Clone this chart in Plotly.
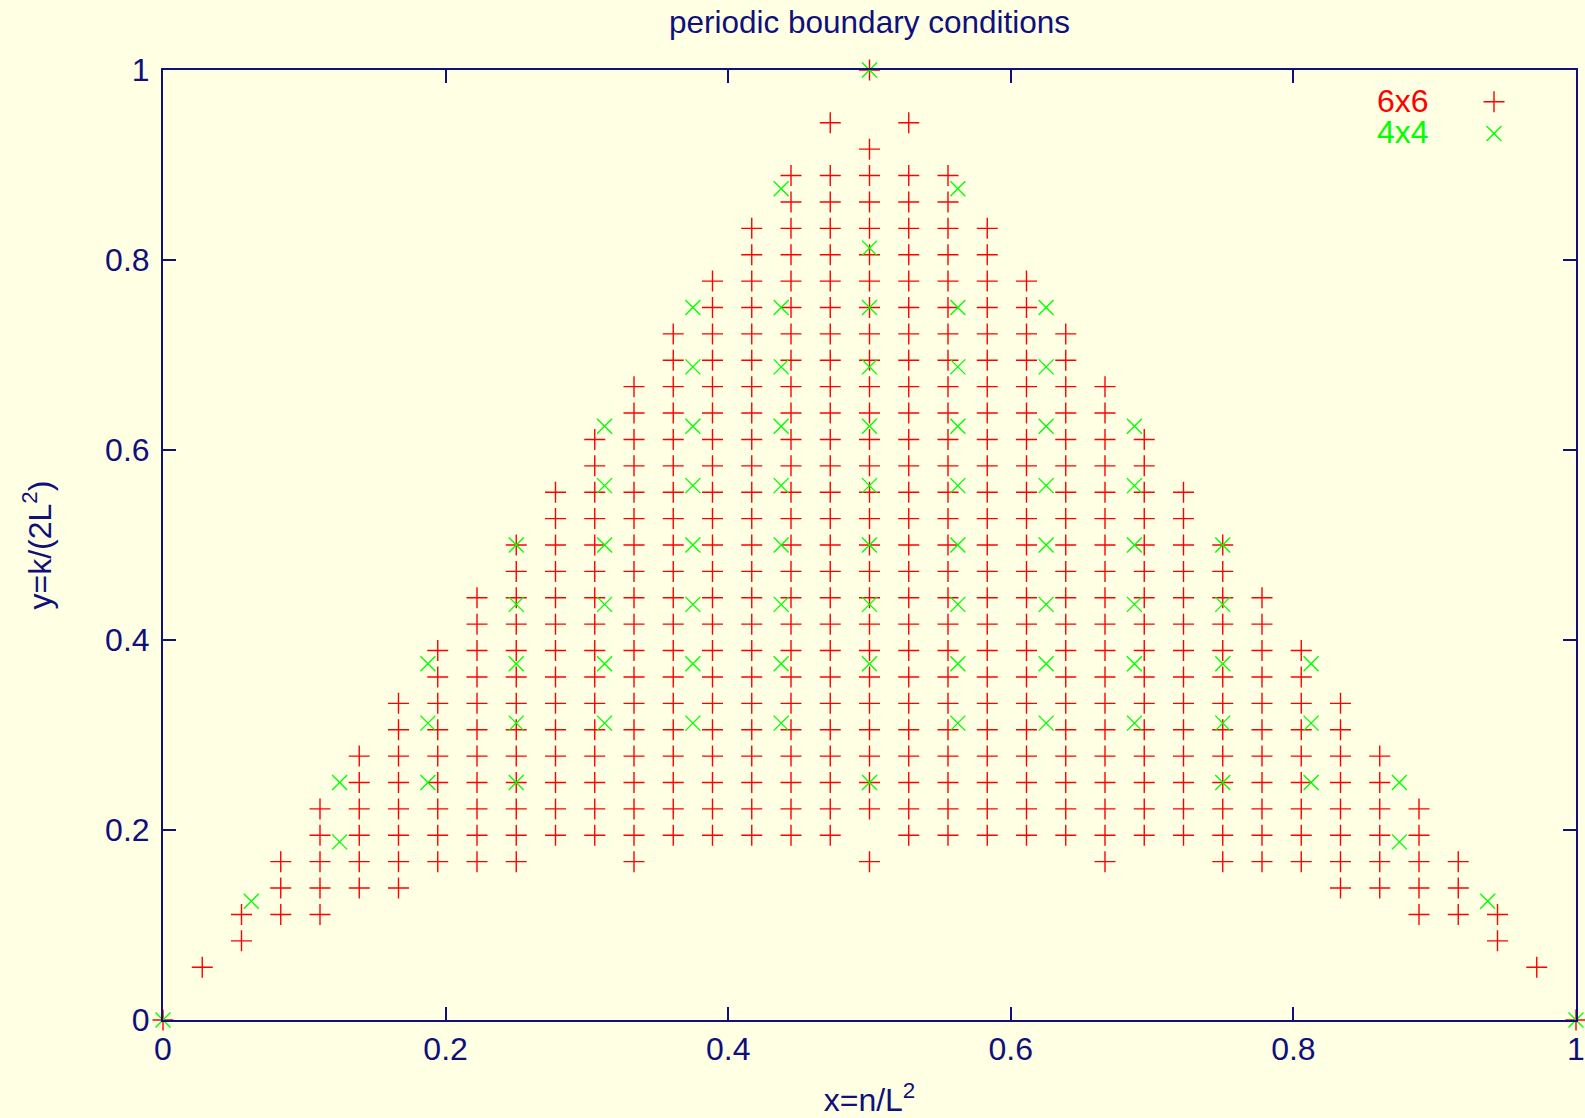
import plotly.graph_objects as go

# ---------------- data ----------------
# 6x6 lattice: x = n / 36 ; y values given as numerators j with y = j / 36
n_6x6 = [0, 1, 2, 3, 4, 5, 6, 7, 8, 9, 10, 11, 12, 13, 14, 15, 16, 17, 18,
         19, 20, 21, 22, 23, 24, 25, 26, 27, 28, 29, 30, 31, 32, 33, 34, 35, 36]
j_6x6 = [
    [0],
    [2],
    [3, 4],
    [4, 5, 6],
    [4, 5, 6, 7, 8],
    [5, 6, 7, 8, 9, 10],
    [5, 6, 7, 8, 9, 10, 11, 12],
    [6, 7, 8, 9, 10, 11, 12, 13, 14],
    [6, 7, 8, 9, 10, 11, 12, 13, 14, 15, 16],
    [6, 7, 8, 9, 10, 11, 12, 13, 14, 15, 16, 17, 18],
    [7, 8, 9, 10, 11, 12, 13, 14, 15, 16, 17, 18, 19, 20],
    [7, 8, 9, 10, 11, 12, 13, 14, 15, 16, 17, 18, 19, 20, 21, 22],
    [6, 7, 8, 9, 10, 11, 12, 13, 14, 15, 16, 17, 18, 19, 20, 21, 22, 23, 24],
    [7, 8, 9, 10, 11, 12, 13, 14, 15, 16, 17, 18, 19, 20, 21, 22, 23, 24, 25, 26],
    [7, 8, 9, 10, 11, 12, 13, 14, 15, 16, 17, 18, 19, 20, 21, 22, 23, 24, 25, 26, 27, 28],
    [7, 8, 9, 10, 11, 12, 13, 14, 15, 16, 17, 18, 19, 20, 21, 22, 23, 24, 25, 26, 27, 28, 29, 30],
    [7, 8, 9, 10, 11, 12, 13, 14, 15, 16, 17, 18, 19, 20, 21, 22, 23, 24, 25, 26, 27, 28, 29, 30, 31, 32],
    [7, 8, 9, 10, 11, 12, 13, 14, 15, 16, 17, 18, 19, 20, 21, 22, 23, 24, 25, 26, 27, 28, 29, 30, 31, 32, 34],
    [6, 8, 9, 10, 11, 12, 13, 14, 15, 16, 17, 18, 19, 20, 21, 22, 23, 24, 25, 26, 27, 28, 29, 30, 31, 32, 33, 36],
    [7, 8, 9, 10, 11, 12, 13, 14, 15, 16, 17, 18, 19, 20, 21, 22, 23, 24, 25, 26, 27, 28, 29, 30, 31, 32, 34],
    [7, 8, 9, 10, 11, 12, 13, 14, 15, 16, 17, 18, 19, 20, 21, 22, 23, 24, 25, 26, 27, 28, 29, 30, 31, 32],
    [7, 8, 9, 10, 11, 12, 13, 14, 15, 16, 17, 18, 19, 20, 21, 22, 23, 24, 25, 26, 27, 28, 29, 30],
    [7, 8, 9, 10, 11, 12, 13, 14, 15, 16, 17, 18, 19, 20, 21, 22, 23, 24, 25, 26, 27, 28],
    [7, 8, 9, 10, 11, 12, 13, 14, 15, 16, 17, 18, 19, 20, 21, 22, 23, 24, 25, 26],
    [6, 7, 8, 9, 10, 11, 12, 13, 14, 15, 16, 17, 18, 19, 20, 21, 22, 23, 24],
    [7, 8, 9, 10, 11, 12, 13, 14, 15, 16, 17, 18, 19, 20, 21, 22],
    [7, 8, 9, 10, 11, 12, 13, 14, 15, 16, 17, 18, 19, 20],
    [6, 7, 8, 9, 10, 11, 12, 13, 14, 15, 16, 17, 18],
    [6, 7, 8, 9, 10, 11, 12, 13, 14, 15, 16],
    [6, 7, 8, 9, 10, 11, 12, 13, 14],
    [5, 6, 7, 8, 9, 10, 11, 12],
    [5, 6, 7, 8, 9, 10],
    [4, 5, 6, 7, 8],
    [4, 5, 6],
    [3, 4],
    [2],
    [0],
]

# 4x4 lattice: x = m / 16 ; y values given as numerators j with y = j / 32
m_4x4 = [0, 1, 2, 3, 4, 5, 6, 7, 8, 9, 10, 11, 12, 13, 14, 15, 16]
j_4x4 = [
    [0],
    [4],
    [6, 8],
    [8, 10, 12],
    [8, 10, 12, 14, 16],
    [10, 12, 14, 16, 18, 20],
    [10, 12, 14, 16, 18, 20, 22, 24],
    [10, 12, 14, 16, 18, 20, 22, 24, 28],
    [8, 12, 14, 16, 18, 20, 22, 24, 26, 32],
    [10, 12, 14, 16, 18, 20, 22, 24, 28],
    [10, 12, 14, 16, 18, 20, 22, 24],
    [10, 12, 14, 16, 18, 20],
    [8, 10, 12, 14, 16],
    [8, 10, 12],
    [6, 8],
    [4],
    [0],
]

series_names = ["6x6", "4x4"]
tick_vals = [0, 0.2, 0.4, 0.6, 0.8, 1]
tick_text = ["0", "0.2", "0.4", "0.6", "0.8", "1"]

# ---------------- build coordinates ----------------
x6, y6 = [], []
for n, js in zip(n_6x6, j_6x6):
    for j in js:
        x6.append(n / 36)
        y6.append(j / 36)

x4, y4 = [], []
for m, js in zip(m_4x4, j_4x4):
    for j in js:
        x4.append(m / 16)
        y4.append(j / 32)

NAVY = "#10107c"
BG = "#ffffe4"
RED = "#ff0000"
GREEN = "#00ff00"
FONT = "Liberation Sans, Arial, sans-serif"
FS = 32

fig = go.Figure()
fig.add_trace(go.Scatter(
    x=x6, y=y6, mode="markers", name=" ", cliponaxis=False,
    marker=dict(symbol="cross-thin", size=15, color=RED,
                line=dict(width=1.4, color=RED)),
))
fig.add_trace(go.Scatter(
    x=x4, y=y4, mode="markers", name=" ", cliponaxis=False,
    marker=dict(symbol="x-thin", size=15, color=GREEN,
                line=dict(width=1.4, color=GREEN)),
))

axis_common = dict(
    range=[0, 1], showgrid=False, zeroline=False,
    showline=True, linecolor=NAVY, linewidth=2, mirror="ticks",
    ticks="inside", ticklen=13, tickwidth=2, tickcolor=NAVY,
    tickvals=tick_vals, ticktext=tick_text, ticklabeloverflow="allow",
    tickfont=dict(family=FONT, size=FS, color=NAVY),
)

fig.update_layout(
    width=1585, height=1118,
    margin=dict(l=163, r=9, t=70, b=98, autoexpand=False),
    paper_bgcolor=BG, plot_bgcolor=BG,
    font=dict(family=FONT, size=FS, color=NAVY),
    title=dict(text="periodic boundary conditions", x=0.5, xref="paper",
               y=1 - 22 / 1118, yref="container", yanchor="middle",
               font=dict(family=FONT, size=31.5, color=NAVY)),
    xaxis=dict(**axis_common,
               title=dict(text="x=n/L<sup>2</sup>", standoff=30,
                          font=dict(family=FONT, size=FS, color=NAVY))),
    yaxis=dict(**axis_common, ticklabelstandoff=5,
               title=dict(text="y=k/(2L<sup>2</sup>)", standoff=44,
                          font=dict(family=FONT, size=FS, color=NAVY))),
    showlegend=True,
    legend=dict(x=(1474 - 163) / 1413, xref="paper", xanchor="left",
                y=(1020 - 81) / 950, yref="paper", yanchor="top",
                bgcolor="rgba(0,0,0,0)", borderwidth=0,
                font=dict(family=FONT, size=22, color=NAVY),
                itemwidth=30),
    annotations=[
        dict(text=series_names[0], xref="paper", yref="paper",
             x=(1431 - 163) / 1413, y=(1020 - 101) / 950,
             xanchor="right", yanchor="middle", showarrow=False,
             font=dict(family=FONT, size=FS, color=RED)),
        dict(text=series_names[1], xref="paper", yref="paper",
             x=(1431 - 163) / 1413, y=(1020 - 132) / 950,
             xanchor="right", yanchor="middle", showarrow=False,
             font=dict(family=FONT, size=FS, color=GREEN)),
    ],
)

fig.write_html("out.html")
